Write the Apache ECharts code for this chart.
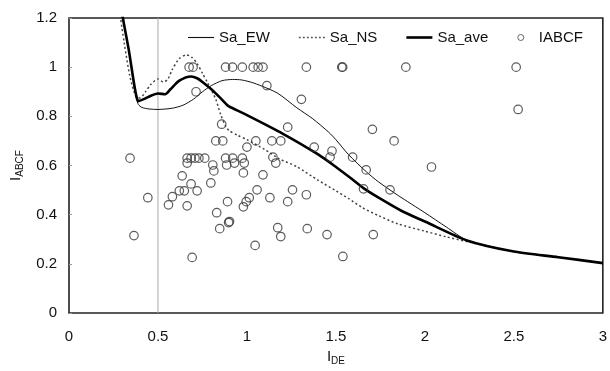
<!DOCTYPE html>
<html><head><meta charset="utf-8">
<script src="https://cdn.jsdelivr.net/npm/echarts@6/dist/echarts.min.js"></script>
<style>html,body{margin:0;padding:0;background:#fff}#c{width:610px;height:371px}</style>
</head><body><div id="c"></div>
<script>
const seriesNames = ['Sa_EW', 'Sa_NS', 'Sa_ave', 'IABCF'];
const refLineX = 0.5;
const saEW = [[0.285,1.3],[0.303,1.2],[0.336,1.07],[0.36,0.95],[0.38,0.87],[0.39,0.848],[0.41,0.836],[0.45,0.83],[0.5,0.828],[0.58,0.833],[0.64,0.845],[0.7,0.87],[0.75,0.9],[0.8,0.925],[0.86,0.945],[0.92,0.95],[0.97,0.948],[1.04,0.935],[1.17,0.895],[1.28,0.835],[1.37,0.79],[1.46,0.735],[1.5,0.705],[1.57,0.645],[1.67,0.575],[1.74,0.533],[1.85,0.478],[2.0,0.408],[2.12,0.35],[2.24,0.295],[2.5,0.25],[2.75,0.227],[3.0,0.203]];
const saNS = [[0.28,1.3],[0.29,1.2],[0.31,1.1],[0.34,0.97],[0.365,0.9],[0.38,0.877],[0.4,0.875],[0.43,0.9],[0.46,0.93],[0.5,0.952],[0.53,0.94],[0.555,0.95],[0.58,0.99],[0.62,1.035],[0.66,1.05],[0.69,1.04],[0.72,1.015],[0.75,0.975],[0.78,0.935],[0.825,0.869],[0.852,0.808],[0.88,0.76],[0.9,0.742],[0.95,0.722],[1.0,0.705],[1.1,0.665],[1.18,0.628],[1.28,0.595],[1.4,0.54],[1.5,0.497],[1.572,0.465],[1.65,0.428],[1.74,0.396],[1.85,0.362],[2.0,0.333],[2.12,0.31],[2.24,0.29],[2.5,0.25],[2.75,0.227],[3.0,0.203]];
const saAve = [[0.285,1.3],[0.303,1.2],[0.336,1.07],[0.364,0.94],[0.38,0.878],[0.39,0.862],[0.42,0.87],[0.46,0.884],[0.5,0.893],[0.54,0.89],[0.57,0.91],[0.62,0.945],[0.686,0.962],[0.72,0.955],[0.75,0.94],[0.8,0.91],[0.85,0.875],[0.89,0.845],[0.9,0.84],[1.0,0.805],[1.2,0.73],[1.4,0.645],[1.517,0.585],[1.59,0.545],[1.655,0.508],[1.74,0.469],[1.87,0.415],[2.0,0.372],[2.236,0.295],[2.5,0.25],[2.75,0.227],[3.0,0.203]];
const iabcf = [[0.675,1.0],[0.697,1.0],[0.88,1.0],[0.919,1.0],[0.974,1.0],[1.035,1.0],[1.063,1.0],[1.09,1.0],[1.334,1.0],[1.533,1.0],[1.538,1.0],[1.893,1.0],[2.513,1.0],
[0.343,0.63],[0.365,0.315],[0.443,0.469],[0.559,0.44],[0.581,0.473],[0.62,0.497],[0.636,0.558],[0.648,0.497],[0.664,0.63],[0.664,0.61],[0.664,0.436],[0.686,0.63],[0.686,0.525],[0.692,0.226],[0.708,0.63],[0.72,0.497],[0.73,0.63],[0.714,0.90],[0.763,0.63],[0.797,0.529],[0.808,0.602],[0.814,0.578],[0.825,0.70],[0.83,0.408],[0.847,0.343],[0.858,0.768],[0.864,0.70],[0.88,0.63],[0.886,0.602],[0.891,0.453],[0.897,0.368],[0.902,0.372],[0.92,0.63],[0.93,0.61],[0.974,0.63],[0.98,0.57],[0.98,0.432],[0.985,0.61],[0.996,0.453],[1.0,0.675],[1.013,0.469],[1.046,0.275],[1.05,0.70],[1.057,0.501],[1.09,0.562],[1.112,0.925],[1.129,0.469],[1.14,0.70],[1.146,0.634],[1.162,0.61],[1.173,0.347],[1.19,0.70],[1.19,0.311],[1.229,0.756],[1.229,0.453],[1.256,0.501],[1.306,0.869],[1.334,0.481],[1.339,0.343],[1.378,0.675],[1.45,0.319],[1.467,0.634],[1.478,0.659],[1.539,0.23],[1.594,0.634],[1.655,0.505],[1.67,0.582],[1.705,0.747],[1.71,0.319],[1.804,0.501],[1.827,0.70],[2.037,0.594],[2.524,0.828]];

const chart = echarts.init(document.getElementById('c'), null, {renderer:'canvas'});
const F = 'Arial, "Liberation Sans", sans-serif';
const dots = (function(){ let p=''; for(let x=0;x<26;x+=4.3){ p+='M'+x+' 0H'+(x+2)+'V1.6H'+x+'Z'; } return 'path://'+p; })();
chart.setOption({
  animation:false,
  textStyle:{fontFamily:F},
  grid:{left:66,right:2,top:18,bottom:56,show:true,borderColor:'#222',borderWidth:1.6,backgroundColor:'transparent'},
  legend:{
    data:[
      {name:seriesNames[0],icon:'path://M0 0H26V1.1H0Z',itemStyle:{color:'#111'}},
      {name:seriesNames[1],icon:dots,itemStyle:{color:'#555'}},
      {name:seriesNames[2],icon:'path://M0 0H26V2.6H0Z',itemStyle:{color:'#000'}},
      {name:seriesNames[3],icon:'circle',itemStyle:{color:'#fff',borderColor:'#444',borderWidth:1}}],
    left:183, top:25, itemWidth:26, itemHeight:6, itemGap:29,
    textStyle:{fontSize:15,color:'#111',fontFamily:F}
  },
  xAxis:{type:'value',min:0,max:3,interval:0.5,
    axisLine:{show:false},axisTick:{show:false},splitLine:{show:false},
    axisLabel:{fontSize:15,color:'#111',margin:16,fontFamily:F},
    name:'{i|I}{s|DE}',nameLocation:'middle',nameGap:34,
    nameTextStyle:{rich:{i:{fontSize:15,color:'#111',fontFamily:F},s:{fontSize:10,color:'#111',padding:[9,0,0,0],fontFamily:F}}}
  },
  yAxis:{type:'value',min:0,max:1.2,interval:0.2,
    axisLine:{show:false},axisTick:{show:true,inside:true,length:3,lineStyle:{color:'#999'}},splitLine:{show:false},
    axisLabel:{fontSize:15,color:'#111',margin:12,fontFamily:F},
    name:'{i|I}{s|ABCF}',nameLocation:'middle',nameGap:44,nameRotate:90,
    nameTextStyle:{rich:{i:{fontSize:15,color:'#111',fontFamily:F},s:{fontSize:10,color:'#111',padding:[9,0,0,0],fontFamily:F}}}
  },
  series:[
    {type:'line',name:'ref',data:[[refLineX,0],[refLineX,1.2]],symbol:'none',silent:true,lineStyle:{color:'#aaa',width:1},z:1},
    {type:'line',name:seriesNames[0],data:saEW,symbol:'none',smooth:0.25,lineStyle:{color:'#111',width:1},itemStyle:{color:'#111'},z:3},
    {type:'line',name:seriesNames[1],data:saNS,symbol:'none',smooth:0.25,lineStyle:{color:'#444',width:1.5,type:[2,2.5]},itemStyle:{color:'#444'},z:3},
    {type:'line',name:seriesNames[2],data:saAve,symbol:'none',smooth:0.25,lineStyle:{color:'#000',width:2.6},itemStyle:{color:'#000'},z:4},
    {type:'scatter',name:seriesNames[3],data:iabcf,symbol:'circle',symbolSize:8.5,
      itemStyle:{color:'rgba(255,255,255,0)',borderColor:'#333',borderWidth:1.2},z:5}
  ]
});
</script></body></html>
